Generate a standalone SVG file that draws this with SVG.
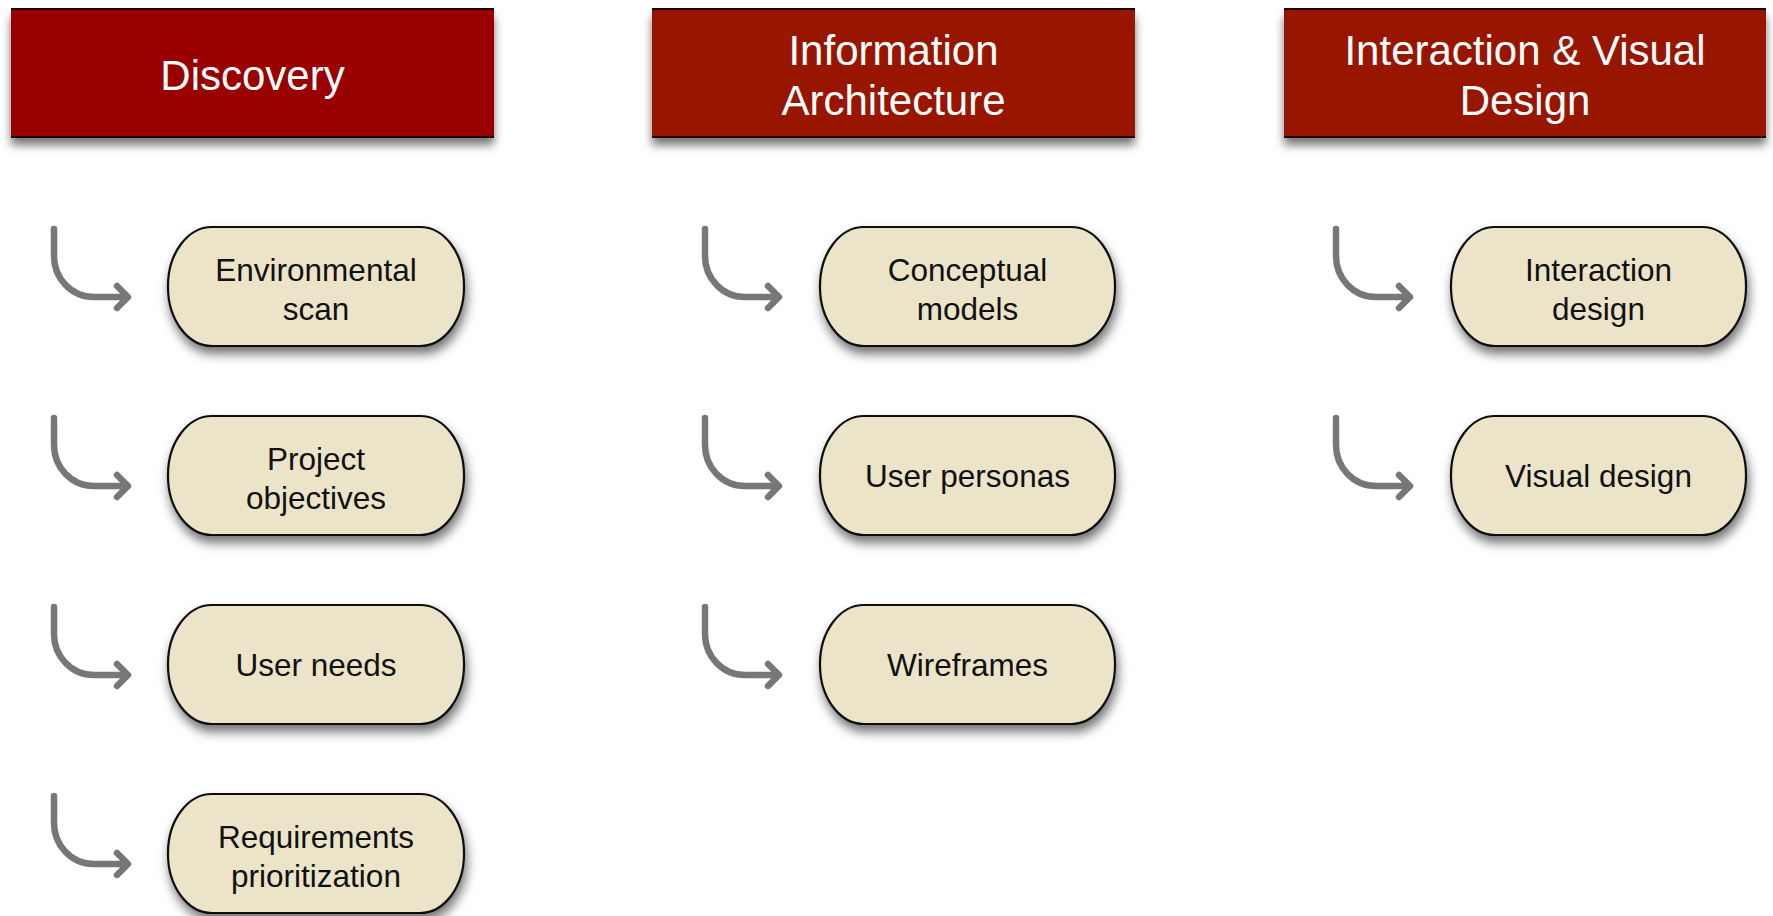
<svg xmlns="http://www.w3.org/2000/svg" width="1773" height="916" viewBox="0 0 1773 916">
<defs>
<filter id="hsh" x="-5%" y="-20%" width="110%" height="150%">
<feDropShadow dx="0" dy="8" stdDeviation="5" flood-color="#000" flood-opacity="0.55"/>
</filter>
<filter id="nsh" x="-10%" y="-20%" width="120%" height="150%">
<feDropShadow dx="2" dy="7" stdDeviation="5.5" flood-color="#000" flood-opacity="0.55"/>
</filter>
</defs>
<style>
.hdr{stroke:none}
.hline{stroke:#1a0000;stroke-width:2}
.htxt{font-family:"Liberation Sans",Arial,sans-serif;font-size:42px;fill:#fff;text-anchor:middle}
.node{fill:#ece4c8;stroke:#111;stroke-width:2.2}
.ntxt{font-family:"Liberation Sans",Arial,sans-serif;font-size:31.5px;fill:#111;text-anchor:middle}
.arr{fill:none;stroke:#777;stroke-width:6.5;stroke-linecap:round;stroke-linejoin:round}
</style>
<rect width="1773" height="916" fill="#fff"/>

<g id="header-discovery">
<rect class="hdr" x="11" y="9" width="483" height="128" fill="#990000" filter="url(#hsh)"/>
<line class="hline" x1="11" y1="9" x2="494" y2="9"/><line class="hline" x1="11" y1="137" x2="494" y2="137"/>
<text class="htxt" x="252.5" y="90">Discovery</text>
</g>
<g id="header-ia">
<rect class="hdr" x="652" y="9" width="483" height="128" fill="#981300" filter="url(#hsh)"/>
<line class="hline" x1="652" y1="9" x2="1135" y2="9"/><line class="hline" x1="652" y1="137" x2="1135" y2="137"/>
<text class="htxt" x="893.5" y="65">Information</text>
<text class="htxt" x="893.5" y="115">Architecture</text>
</g>
<g id="header-ivd">
<rect class="hdr" x="1284" y="9" width="482" height="128" fill="#981300" filter="url(#hsh)"/>
<line class="hline" x1="1284" y1="9" x2="1766" y2="9"/><line class="hline" x1="1284" y1="137" x2="1766" y2="137"/>
<text class="htxt" x="1525" y="65">Interaction &amp; Visual</text>
<text class="htxt" x="1525" y="115">Design</text>
</g>

<g id="connectors">
<path class="arr" d="M54,229 L54,256 C54,278 71,297 94,297 L127,297 M117,286 L128,297 L117,308"/>
<path class="arr" d="M54,418 L54,445 C54,467 71,486 94,486 L127,486 M117,475 L128,486 L117,497"/>
<path class="arr" d="M54,607 L54,634 C54,656 71,675 94,675 L127,675 M117,664 L128,675 L117,686"/>
<path class="arr" d="M54,796 L54,823 C54,845 71,864 94,864 L127,864 M117,853 L128,864 L117,875"/>
<path class="arr" d="M705,229 L705,256 C705,278 722,297 745,297 L778,297 M768,286 L779,297 L768,308"/>
<path class="arr" d="M705,418 L705,445 C705,467 722,486 745,486 L778,486 M768,475 L779,486 L768,497"/>
<path class="arr" d="M705,607 L705,634 C705,656 722,675 745,675 L778,675 M768,664 L779,675 L768,686"/>
<path class="arr" d="M1336,229 L1336,256 C1336,278 1353,297 1376,297 L1409,297 M1399,286 L1410,297 L1399,308"/>
<path class="arr" d="M1336,418 L1336,445 C1336,467 1353,486 1376,486 L1409,486 M1399,475 L1410,486 L1399,497"/>
</g>

<g id="node-environmental-scan">
<rect class="node" x="168" y="227" width="296" height="119" rx="44" ry="59" filter="url(#nsh)"/>
<text class="ntxt" x="316" y="281">Environmental</text>
<text class="ntxt" x="316" y="320">scan</text>
</g>
<g id="node-project-objectives">
<rect class="node" x="168" y="416" width="296" height="119" rx="44" ry="59" filter="url(#nsh)"/>
<text class="ntxt" x="316" y="470">Project</text>
<text class="ntxt" x="316" y="509">objectives</text>
</g>
<g id="node-user-needs">
<rect class="node" x="168" y="605" width="296" height="119" rx="44" ry="59" filter="url(#nsh)"/>
<text class="ntxt" x="316" y="676">User needs</text>
</g>
<g id="node-requirements-prioritization">
<rect class="node" x="168" y="794" width="296" height="119" rx="44" ry="59" filter="url(#nsh)"/>
<text class="ntxt" x="316" y="848">Requirements</text>
<text class="ntxt" x="316" y="887">prioritization</text>
</g>
<g id="node-conceptual-models">
<rect class="node" x="820" y="227" width="295" height="119" rx="44" ry="59" filter="url(#nsh)"/>
<text class="ntxt" x="967.5" y="281">Conceptual</text>
<text class="ntxt" x="967.5" y="320">models</text>
</g>
<g id="node-user-personas">
<rect class="node" x="820" y="416" width="295" height="119" rx="44" ry="59" filter="url(#nsh)"/>
<text class="ntxt" x="967.5" y="487">User personas</text>
</g>
<g id="node-wireframes">
<rect class="node" x="820" y="605" width="295" height="119" rx="44" ry="59" filter="url(#nsh)"/>
<text class="ntxt" x="967.5" y="676">Wireframes</text>
</g>
<g id="node-interaction-design">
<rect class="node" x="1451" y="227" width="295" height="119" rx="44" ry="59" filter="url(#nsh)"/>
<text class="ntxt" x="1598.5" y="281">Interaction</text>
<text class="ntxt" x="1598.5" y="320">design</text>
</g>
<g id="node-visual-design">
<rect class="node" x="1451" y="416" width="295" height="119" rx="44" ry="59" filter="url(#nsh)"/>
<text class="ntxt" x="1598.5" y="487">Visual design</text>
</g>
</svg>
